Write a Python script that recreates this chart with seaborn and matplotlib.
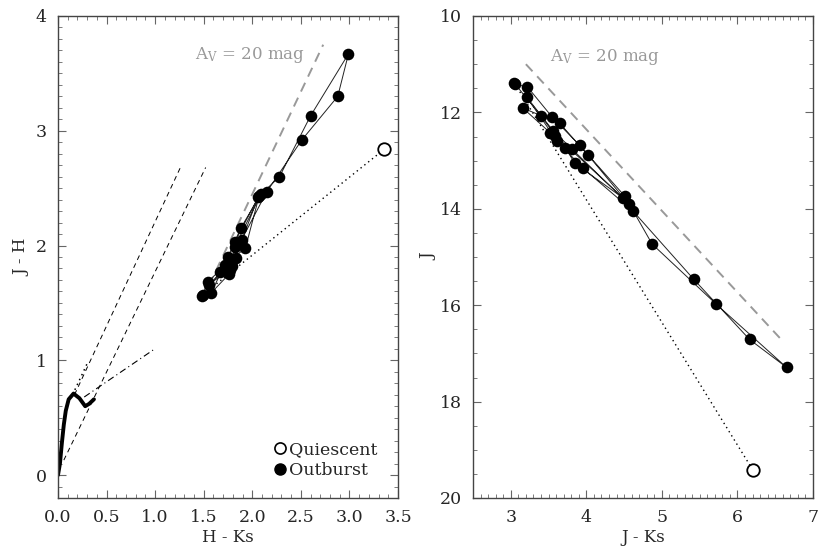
import matplotlib
matplotlib.use('Agg')
import matplotlib.pyplot as plt
from matplotlib.lines import Line2D
import seaborn as sns

# outburst epochs in time order
hks = [1.49, 1.54, 1.72, 1.93, 2.07, 2.28, 2.60, 2.99, 2.88, 2.51, 2.15, 1.89, 1.78,
       1.55, 1.77, 1.82, 2.09, 1.88, 1.75, 1.58, 1.76, 1.83, 1.82, 2.06, 1.79, 1.67, 1.48]
jh = [1.57, 1.68, 1.83, 1.98, 2.43, 2.60, 3.13, 3.67, 3.30, 2.92, 2.47, 2.05, 1.83,
      1.66, 1.79, 1.99, 2.45, 2.15, 1.90, 1.59, 1.75, 1.89, 2.03, 2.42, 1.82, 1.77, 1.56]
jks = [3.06, 3.22, 3.55, 3.91, 4.51, 4.87, 5.72, 6.65, 6.16, 5.42, 4.62, 3.95, 3.61,
       3.21, 3.56, 3.81, 4.56, 4.02, 3.65, 3.16, 3.52, 3.72, 3.85, 4.49, 3.59, 3.40, 3.04]
jmag = [11.42, 11.47, 12.10, 12.68, 13.74, 14.73, 15.98, 17.29, 16.71, 15.46, 14.05, 13.15, 12.59,
        11.68, 12.38, 12.76, 13.90, 12.88, 12.23, 11.91, 12.42, 12.73, 13.06, 13.78, 12.48, 12.07, 11.38]

# quiescent
q_hks, q_jh = 3.36, 2.84
q_jks, q_j = 6.20, 19.41

# dwarf and giant loci, CTTS locus, reddening vectors
dwarf_hks = [0.00, 0.02, 0.04, 0.06, 0.08, 0.11, 0.16, 0.22, 0.28, 0.32, 0.37]
dwarf_jh = [0.00, 0.10, 0.28, 0.44, 0.56, 0.66, 0.71, 0.67, 0.60, 0.62, 0.66]
giant_hks = [0.15, 0.20, 0.25, 0.31]
giant_jh = [0.70, 0.79, 0.88, 0.99]
ctts_hks = [0.27, 0.98]
ctts_jh = [0.68, 1.09]
redA_hks, redA_jh = [0.17, 1.26], [0.70, 2.68]
redB_hks, redB_jh = [0.06, 1.52], [0.13, 2.68]
av_hks, av_jh = [1.48, 2.73], [1.52, 3.75]
av_jks, av_j = [3.20, 6.62], [11.00, 16.78]

sns.set_style('ticks')
plt.rcParams['font.family'] = ['DejaVu Serif']
plt.rcParams['mathtext.fontset'] = 'dejavuserif'

fig = plt.figure(figsize=(8.3, 5.54), dpi=100)
ax1 = fig.add_axes([58/830, 56/554, 340/830, 482/554])
ax2 = fig.add_axes([473/830, 56/554, 340/830, 482/554])

dash_gray = (0, (5, 3.5))
dash_black = (0, (5, 4))
dotted = (0, (1, 2.5))

# ---- left: colour-colour ----
ax = ax1
ax.plot(redA_hks, redA_jh, color='black', lw=0.7, ls=dash_black)
ax.plot(redB_hks, redB_jh, color='black', lw=0.7, ls=dash_black)
ax.plot(ctts_hks, ctts_jh, color='black', lw=0.8, ls=(0, (6, 3, 1, 3)))
ax.plot(giant_hks, giant_jh, color='black', lw=1.1, ls=dotted)
sns.lineplot(x=dwarf_hks, y=dwarf_jh, sort=False, estimator=None, color='black', lw=2.8, ax=ax)
ax.plot(av_hks, av_jh, color='#999999', lw=1.4, ls=dash_gray)
ax.plot([q_hks, hks[0]], [q_jh, jh[0]], color='black', lw=1.0, ls=dotted)
sns.lineplot(x=hks, y=jh, sort=False, estimator=None, color='#222222', lw=0.7, ax=ax)
sns.scatterplot(x=hks, y=jh, color='black', s=70, linewidth=0, ax=ax, zorder=3)
ax.plot([q_hks], [q_jh], 'o', mfc='white', mec='black', mew=1.3, ms=9, zorder=3)
ax.text(1.98, 3.66, r'A$_\mathrm{V}$ = 20 mag', color='#999999', fontsize=12,
        ha='center', va='center')
ax.set_xlim(0, 3.5)
ax.set_ylim(-0.2, 4.0)
ax.set_xticks([0, 0.5, 1, 1.5, 2, 2.5, 3, 3.5])
ax.set_xticklabels(['0.0', '0.5', '1.0', '1.5', '2.0', '2.5', '3.0', '3.5'])
ax.set_yticks([0, 1, 2, 3, 4])
ax.xaxis.set_minor_locator(plt.MultipleLocator(0.1))
ax.yaxis.set_minor_locator(plt.MultipleLocator(0.1))
ax.set_xlabel('H - Ks', fontsize=12, labelpad=2)
ax.set_ylabel('J - H', fontsize=12, labelpad=4)

handles = [Line2D([], [], ls='none', marker='o', mfc='white', mec='black', mew=1.2, ms=8),
           Line2D([], [], ls='none', marker='o', mfc='black', mec='black', ms=8)]
ax.legend(handles, ['Quiescent', 'Outburst'], loc='lower right', frameon=False,
          fontsize=12.5, handlelength=0.6, handletextpad=0.2, borderaxespad=0.3,
          labelspacing=0.2, bbox_to_anchor=(0.975, 0.015))

# ---- right: colour-magnitude ----
ax = ax2
ax.plot(av_jks, av_j, color='#999999', lw=1.4, ls=dash_gray)
ax.plot([q_jks, jks[0]], [q_j, jmag[0]], color='black', lw=1.0, ls=dotted)
sns.lineplot(x=jks, y=jmag, sort=False, estimator=None, color='#222222', lw=0.7, ax=ax)
sns.scatterplot(x=jks, y=jmag, color='black', s=70, linewidth=0, ax=ax, zorder=3)
ax.plot([q_jks], [q_j], 'o', mfc='white', mec='black', mew=1.3, ms=9, zorder=3)
ax.text(4.25, 10.86, r'A$_\mathrm{V}$ = 20 mag', color='#999999', fontsize=12,
        ha='center', va='center')
ax.set_xlim(2.5, 7)
ax.set_ylim(20, 10)
ax.set_xticks([3, 4, 5, 6, 7])
ax.set_yticks([10, 12, 14, 16, 18, 20])
ax.xaxis.set_minor_locator(plt.MultipleLocator(0.1))
ax.yaxis.set_minor_locator(plt.MultipleLocator(0.5))
ax.set_xlabel('J - Ks', fontsize=12, labelpad=2)
ax.set_ylabel('J', fontsize=12, labelpad=2)

for ax in (ax1, ax2):
    ax.tick_params(which='both', direction='in', top=True, right=True,
                   color='#666666', labelsize=12.5, pad=8)
    ax.tick_params(which='major', length=6, width=0.8)
    ax.tick_params(which='minor', length=3, width=0.6)
    for sp in ax.spines.values():
        sp.set_color('#444444')
        sp.set_linewidth(1.0)

fig.savefig('out.png', dpi=100)
